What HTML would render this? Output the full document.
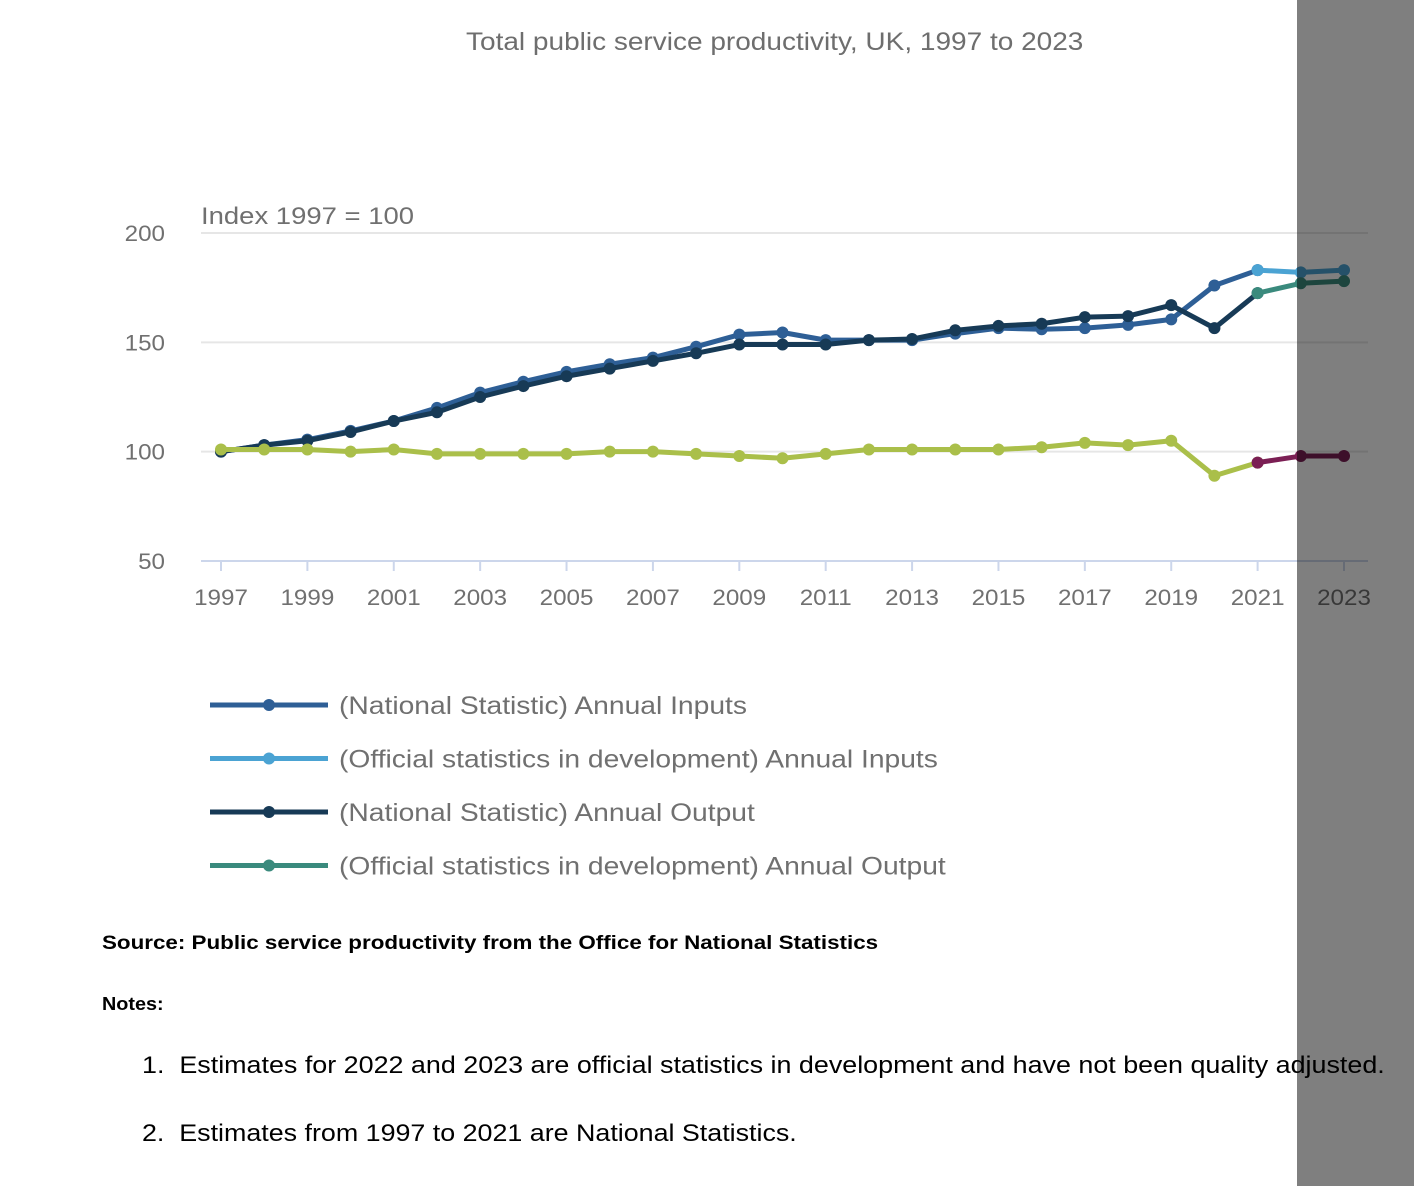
<!DOCTYPE html>
<html><head><meta charset="utf-8"><style>
body{margin:0;width:1414px;height:1186px;background:#fff;position:relative;overflow:hidden;font-family:"Liberation Sans",sans-serif}
.t{position:absolute;color:#707070;white-space:nowrap;transform-origin:0 0}
</style></head><body>
<div class="t" style="left:466px;top:28px;font-size:25px;color:#6e6e6e;transform:scaleX(1.12)">Total public service productivity, UK, 1997 to 2023</div>
<svg id="chart" width="1414" height="900" style="position:absolute;left:0;top:0"></svg>
<div class="t" style="left:102px;top:933px;font-size:19px;font-weight:bold;color:#000;transform:scaleX(1.178)">Source: Public service productivity from the Office for National Statistics</div>
<div class="t" style="left:102px;top:994px;font-size:18px;font-weight:bold;color:#000;transform:scaleX(1.1)">Notes:</div>
<div class="t" style="left:142px;top:1052px;font-size:24px;color:#000;transform:scaleX(1.12)">1.&nbsp; Estimates for 2022 and 2023 are official statistics in development and have not been quality adjusted.</div>
<div class="t" style="left:142px;top:1120px;font-size:24px;color:#000;transform:scaleX(1.118)">2.&nbsp; Estimates from 1997 to 2021 are National Statistics.</div>
<div style="position:absolute;left:1297px;top:0;width:117px;height:1186px;background:rgba(0,0,0,0.5)"></div>
<script>
const years=[1997,1998,1999,2000,2001,2002,2003,2004,2005,2006,2007,2008,2009,2010,2011,2012,2013,2014,2015,2016,2017,2018,2019,2020,2021];
const devYears=[2021,2022,2023];
const inputsNS=[100,103,105.5,109.5,114,120,127,132,136.5,140,143,148,153.5,154.5,151,151,151,154,156.5,156,156.5,158,160.5,176,183];
const inputsDev=[183,182,183];
const outputNS=[100,103,105,109,114,118,125,130,134.5,138,141.5,145,149,149,149,151,151.5,155.5,157.5,158.5,161.5,162,167,156.5,172.5];
const outputDev=[172.5,177,178];
const prodNS=[101,101,101,100,101,99,99,99,99,100,100,99,98,97,99,101,101,101,101,102,104,103,105,89,95];
const prodDev=[95,98,98];
const yTicks=[50,100,150,200];
const xTickLabels=[1997,1999,2001,2003,2005,2007,2009,2011,2013,2015,2017,2019,2021,2023];
const legendLabels=["(National Statistic) Annual Inputs","(Official statistics in development) Annual Inputs","(National Statistic) Annual Output","(Official statistics in development) Annual Output"];
const legendColors=["#2e5f96","#4ba3d3","#173a56","#3a8a7d"];
const svg=document.getElementById('chart');
const NS='http://www.w3.org/2000/svg';
const X=y=>221+(y-1997)*(1344-221)/26;
const Y=v=>561-(v-50)*(561-233)/150;
function mk(t,a){const e=document.createElementNS(NS,t);for(const k in a)e.setAttribute(k,a[k]);svg.appendChild(e);return e;}
function txt(x,y,s,size,anchor,sx){const t=mk('text',{transform:'translate('+x+','+y+') scale('+sx+',1)','text-anchor':anchor,'font-size':size,fill:'#707070','font-family':'Liberation Sans'});t.textContent=s;return t;}
yTicks.forEach(v=>{
 const l=mk('line',{x1:201,x2:1368,y1:Y(v),y2:Y(v),stroke:v==50?'#ccd6eb':'#e6e6e6','stroke-width':2});
 
 
 const t=txt(165,Y(v)+8,v,22,'end',1.1);
 
 
});
const yt=txt(201,224,'Index 1997 = 100',24,'start',1.145);


xTickLabels.forEach(y=>{
 const tk=mk('line',{x1:X(y),x2:X(y),y1:561,y2:571,stroke:'#ccd6eb','stroke-width':2});
 
 
 const t=txt(X(y),605,y,22,'middle',1.1);
 
 
});
function series(xs,vs,c,name){
 const p=mk('polyline',{points:xs.map((x,i)=>X(x)+','+Y(vs[i])).join(' '),fill:'none',stroke:c,'stroke-width':5,'stroke-linejoin':'round'});
 
 
 xs.forEach((x,i)=>{const d=mk('circle',{cx:X(x),cy:Y(vs[i]),r:6,fill:c});
 
 });
}
series(years,inputsNS,'#2e5f96','inputs-ns');
series(devYears,inputsDev,'#4ba3d3','inputs-dev');
series(years,outputNS,'#173a56','output-ns');
series(devYears,outputDev,'#3a8a7d','output-dev');
series(years,prodNS,'#aabf4a','productivity-ns');
series(devYears,prodDev,'#7b1f54','productivity-dev');
legendLabels.forEach((s,i)=>{
 const y=705+i*53.5;
 const l=mk('line',{x1:210,x2:328,y1:y,y2:y,stroke:legendColors[i],'stroke-width':5});
 
 
 const c=mk('circle',{cx:269,cy:y,r:6,fill:legendColors[i]});
 
 
 const t=txt(339,y+9,s,25,'start',1.13);
 
 
});
</script>
</body></html>
